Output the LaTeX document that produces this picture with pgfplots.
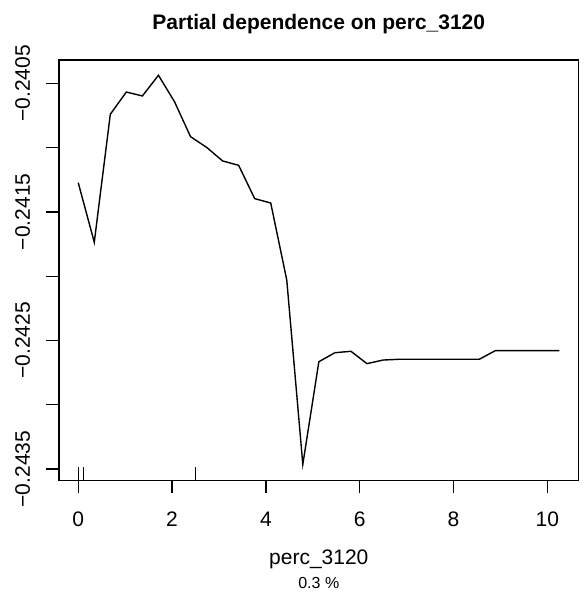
\documentclass[border=0pt]{standalone}
\usepackage{pgfplots}
\pgfplotsset{compat=1.18}
\usepackage{fontspec}
\setmainfont{Liberation Sans}
\begin{document}
\begin{tikzpicture}[x=1bp,y=1bp]
\useasboundingbox (0,0) rectangle (584,595);
\begin{axis}[
    at={(59bp,114.7bp)}, anchor=south west,
    scale only axis,
    width=519.7bp, height=420.3bp,
    xmin=-0.41, xmax=10.67,
    ymin=-0.243587, ymax=-0.240319,
    axis line style={line width=1.3bp},
    tick style={line width=1.3bp, black},
    tick align=outside,
    major tick length=13bp,
    xtick pos=left, ytick pos=left,
    xtick={0,2,4,6,8,10},
    ytick={-0.2435,-0.243,-0.2425,-0.242,-0.2415,-0.241,-0.2405},
    yticklabels={−0.2435,,−0.2425,,−0.2415,,−0.2405},
    scaled y ticks=false,
    /pgf/number format/assume math mode=true,
    tick label style={font=\fontsize{21bp}{25bp}\selectfont},
    xticklabel style={anchor=base, yshift=-33bp},
    yticklabel style={rotate=90, anchor=base},
    yticklabel shift=16bp,
]
\addplot[black, line width=1.4bp] coordinates {
(0.000,-0.241273)(0.342,-0.241736)(0.684,-0.240741)(1.026,-0.240568)
(1.368,-0.240599)(1.710,-0.240438)(2.052,-0.240643)(2.394,-0.240915)
(2.736,-0.240998)(3.078,-0.241104)(3.420,-0.241138)(3.762,-0.241397)
(4.104,-0.241431)(4.446,-0.242030)(4.788,-0.243463)(5.130,-0.242665)
(5.472,-0.242595)(5.814,-0.242584)(6.156,-0.242680)(6.498,-0.242652)
(6.840,-0.242646)(7.182,-0.242646)(7.524,-0.242646)(7.866,-0.242646)
(8.208,-0.242646)(8.550,-0.242646)(8.892,-0.242579)(9.234,-0.242579)
(9.576,-0.242579)(9.918,-0.242579)(10.260,-0.242579)
};
% rug
\addplot[black, line width=1bp] coordinates {(0,-0.243587)(0,-0.243481)};
\addplot[black, line width=1bp] coordinates {(0.107,-0.243587)(0.107,-0.243481)};
\addplot[black, line width=1bp] coordinates {(2.51,-0.243587)(2.51,-0.243481)};
\end{axis}
\node[anchor=base, font=\fontsize{21bp}{25bp}\selectfont\bfseries] at (318.8,565) {Partial dependence on perc\_3120};
\node[anchor=base, font=\fontsize{21bp}{25bp}\selectfont] at (318.8,30) {perc\_3120};
\node[anchor=base, font=\fontsize{16bp}{19bp}\selectfont] at (318.8,6.7) {0.3 \%};
\end{tikzpicture}
\end{document}
